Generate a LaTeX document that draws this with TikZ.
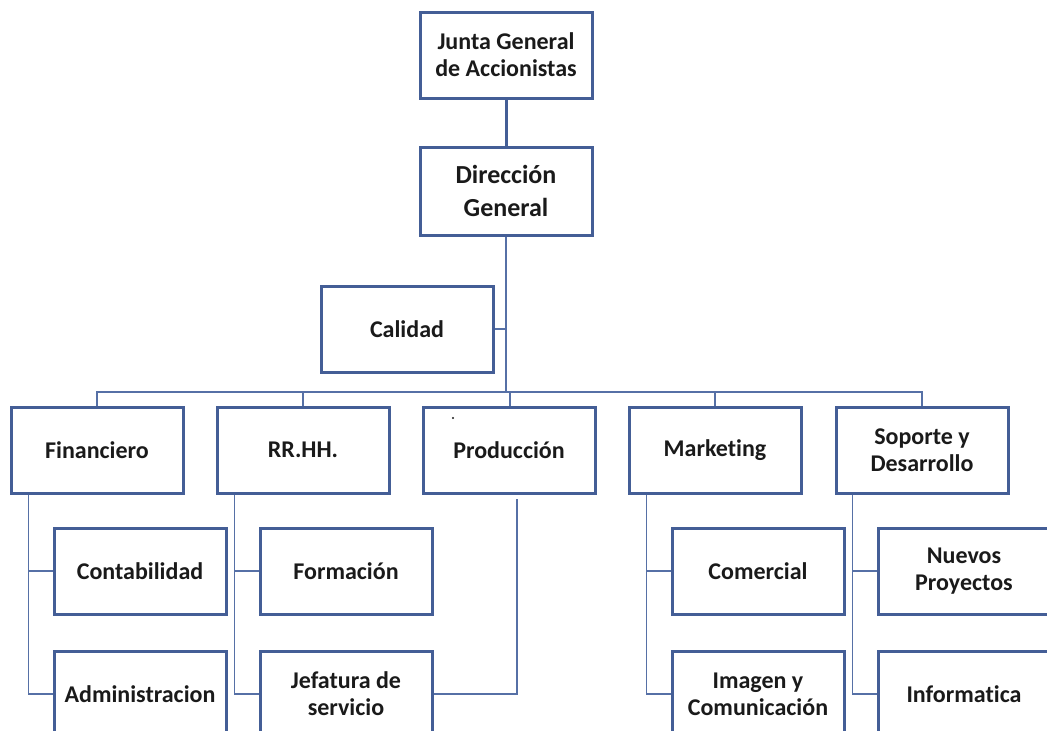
\documentclass[tikz,border=0pt]{standalone}
\usepackage{fontspec}
\setmainfont{Carlito}[Ligatures={NoCommon}]
\usetikzlibrary{calc}
\definecolor{boxline}{RGB}{68,94,150}
\definecolor{linkline}{RGB}{86,112,166}
\definecolor{inktext}{RGB}{26,26,26}
\tikzset{
  unit/.style={draw=boxline, line width=3pt, fill=white, rectangle,
    minimum width=172pt, minimum height=86pt, inner sep=0pt, align=center,
    text=inktext, font=\fontsize{24pt}{27pt}\selectfont\bfseries},
  link/.style={draw=linkline, line width=1.5pt},
  trunk/.style={draw=boxline, line width=3pt},
}
\begin{document}
\begin{tikzpicture}[x=1pt,y=-1pt]
\useasboundingbox (0,0) rectangle (1047,731);
\fill[white] (0,0) rectangle (1047,731);
\clip (0,0) rectangle (1047,731);

% top of the chart
\node[unit] (junta) at (506,55) {Junta General\\de Accionistas};
\node[unit, minimum height=88pt, font=\fontsize{26pt}{33pt}\selectfont\bfseries] (dir) at (506,191) {Dirección\\General};
\node[unit] (cal) at (407,329) {Calidad};

% departments
\node[unit] (fin)  at (97,450)  {Financiero};
\node[unit] (rrhh) at (303,450) {RR.HH.};
\node[unit] (prod) at (509,450) {Producción};
\node[unit] (mkt)  at (715,450) {Marketing};
\node[unit] (sop)  at (922,450) {Soporte y\\Desarrollo};

% sub-units
\node[unit] (cont) at (140,571) {Contabilidad};
\node[unit] (adm)  at (140,694) {Administracion};
\node[unit] (form) at (346,571) {Formación};
\node[unit] (jef)  at (346,694) {Jefatura de\\servicio};
\node[unit] (com)  at (758,571) {Comercial};
\node[unit] (img)  at (758,694) {Imagen y\\Comunicación};
\node[unit] (nue)  at (964,571) {Nuevos\\Proyectos};
\node[unit] (inf)  at (964,694) {Informatica};

% main trunk and bus
\coordinate (busy) at (0,392);
\draw[trunk] (junta.south) -- (dir.north);
\draw[link, line width=2pt] (dir.south) -- (dir.south |- busy);
\draw[link] (cal.east) -- (cal.east -| dir.south);
\draw[link] (fin.north) -- (fin.north |- busy) -- (sop.north |- busy) -- (sop.north);
\draw[link] (rrhh.north) -- (rrhh.north |- busy);
\draw[link] ([xshift=1pt]prod.north) -- ([xshift=1pt]prod.north |- busy);
\draw[link] (mkt.north) -- (mkt.north |- busy);

% department spines
\coordinate (finS) at ($(fin.south west)+(19,0)$);
\draw[link] (finS) |- (adm.west);
\draw[link] (cont.west) -- (cont.west -| finS);

\coordinate (rrhS) at ($(rrhh.south west)+(19,0)$);
\draw[link] (rrhS) |- (jef.west);
\draw[link] (form.west) -- (form.west -| rrhS);

\coordinate (mktS) at ($(mkt.south west)+(19,0)$);
\draw[link] (mktS) |- (img.west);
\draw[link] (com.west) -- (com.west -| mktS);

\coordinate (sopS) at ($(sop.south west)+(18,0)$);
\draw[link] (sopS) |- (inf.west);
\draw[link] (nue.west) -- (nue.west -| sopS);

% production to service management
\draw[link] (jef.east) -| ([xshift=8pt,yshift=-4pt]prod.south);

% small mark inside the production box
\fill[inktext] (453,418) circle (1.2pt);
\end{tikzpicture}
\end{document}
